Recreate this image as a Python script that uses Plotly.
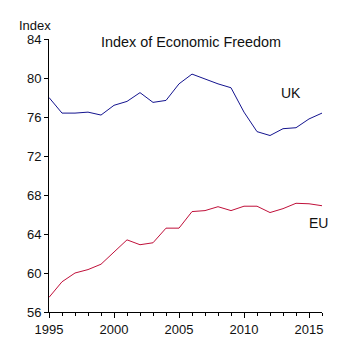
import plotly.graph_objects as go

years = list(range(1995, 2017))
uk = [78.0, 76.4, 76.4, 76.5, 76.2, 77.2, 77.6, 78.5, 77.5, 77.7, 79.4,
      80.4, 79.9, 79.4, 79.0, 76.5, 74.5, 74.1, 74.8, 74.9, 75.8, 76.4]
eu = [57.5, 59.1, 60.0, 60.35, 60.9, 62.1, 63.4, 62.9, 63.1, 64.6, 64.6,
      66.3, 66.4, 66.8, 66.4, 66.85, 66.85, 66.2, 66.6, 67.15, 67.1, 66.9]
y_ticks = [56, 60, 64, 68, 72, 76, 80, 84]
x_ticks = [1995, 2000, 2005, 2010, 2015]

FONT = "Liberation Sans, Arial, sans-serif"

fig = go.Figure()
fig.add_trace(go.Scatter(x=years, y=uk, mode="lines", name="UK",
                         line=dict(color="#14148F", width=1)))
fig.add_trace(go.Scatter(x=years, y=eu, mode="lines", name="EU",
                         line=dict(color="#C0103A", width=1)))

fig.update_layout(
    width=355, height=355,
    margin=dict(l=41, r=41, t=31, b=51),
    paper_bgcolor="white", plot_bgcolor="white",
    showlegend=False,
    font=dict(family=FONT, size=13, color="#111111"),
    xaxis=dict(range=[1995, 2016], tickvals=x_ticks, ticks="outside",
               ticklen=5, tickcolor="black", showgrid=False, zeroline=False,
               showline=True, linecolor="black", linewidth=1,
               automargin=False, tickfont=dict(size=13),
               minor=dict(dtick=1, tick0=1995, ticks="outside", ticklen=3,
                          tickcolor="black", showgrid=False)),
    yaxis=dict(range=[56, 84], tickvals=y_ticks, ticks="outside",
               ticklen=4, tickcolor="black", showgrid=False, zeroline=False,
               showline=True, linecolor="black", linewidth=1,
               automargin=False, tickfont=dict(size=13)),
    annotations=[
        dict(text="Index of Economic Freedom", xref="paper", yref="paper",
             x=0.52, y=0.99, xanchor="center", yanchor="middle",
             showarrow=False, font=dict(size=14.4)),
        dict(text="Index", xref="paper", yref="paper",
             x=-0.05, y=1.016, xanchor="center", yanchor="bottom",
             showarrow=False, font=dict(size=13)),
        dict(text="UK", xref="x", yref="y", x=2013.6, y=78.5,
             showarrow=False, font=dict(size=14)),
        dict(text="EU", xref="x", yref="y", x=2015.75, y=65.1,
             showarrow=False, font=dict(size=14)),
    ],
)

fig.write_html("out.html")
